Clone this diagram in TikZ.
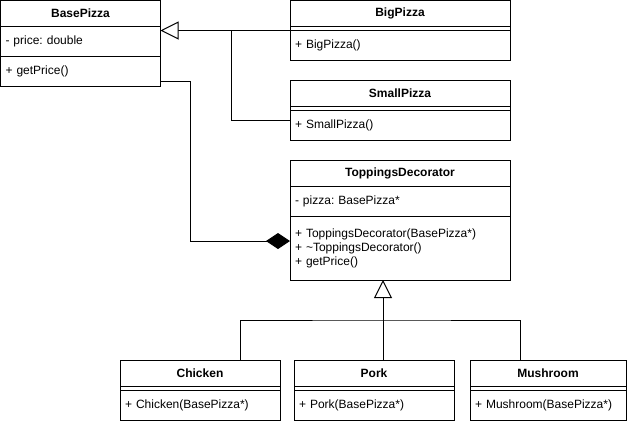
\documentclass[tikz,border=0pt]{standalone}
\usepackage{fontspec}
\setmainfont{Liberation Sans}
\frenchspacing
\usetikzlibrary{arrows.meta,positioning}

\begin{document}
\begin{tikzpicture}[
    x=1pt, y=-1pt,
    line width=1pt,
    node distance=0pt,
    font=\fontsize{12}{14}\selectfont,
    head/.style={rectangle, draw, font=\fontsize{12}{14}\selectfont\bfseries, minimum width=#1, minimum height=26pt, inner sep=0pt, outer sep=0pt},
    sep/.style={rectangle, draw, minimum width=#1, minimum height=4pt, inner sep=0pt, outer sep=0pt},
    part/.style={rectangle, draw, text width=#1, inner xsep=5pt, inner ysep=0pt, outer sep=0pt, align=left},
    inherit/.style={-{Triangle[open, length=18pt, width=18pt, fill=white]}},
    compose/.style={-{Diamond[length=24pt, width=16pt]}}
]
\useasboundingbox (0,0) rectangle (631,424);

% BasePizza
\node[head=160pt, anchor=north west] (basehead) at (0.5,0.5) {BasePizza};
\node[part=150pt, minimum height=30pt, below=of basehead] (baseattr) {- price: double};
\node[part=150pt, minimum height=30pt, below=of baseattr] (basemeth) {+ getPrice()};

% BigPizza
\node[head=220pt, anchor=north west] (bighead) at (290,0.5) {BigPizza};
\node[sep=220pt, below=of bighead] (bigsep) {};
\node[part=210pt, minimum height=30pt, below=of bigsep] (bigmeth) {\raisebox{-2pt}{+ BigPizza()}};

% SmallPizza
\node[head=220pt, anchor=north west] (smallhead) at (290,80) {SmallPizza};
\node[sep=220pt, below=of smallhead] (smallsep) {};
\node[part=210pt, minimum height=30pt, below=of smallsep] (smallmeth) {\raisebox{-2pt}{+ SmallPizza()}};

% ToppingsDecorator
\node[head=220pt, anchor=north west] (topphead) at (290,160) {ToppingsDecorator};
\node[part=210pt, minimum height=30pt, below=of topphead] (toppattr) {- pizza: BasePizza*};
\node[part=210pt, minimum height=64pt, below=of toppattr] (toppmeth) {+ ToppingsDecorator(BasePizza*)\\+ \textasciitilde ToppingsDecorator()\\+ getPrice()};

% Toppings
\node[head=160pt, anchor=north west] (chickhead) at (120,360) {Chicken};
\node[sep=160pt, below=of chickhead] (chicksep) {};
\node[part=150pt, minimum height=30pt, below=of chicksep] (chickmeth) {\raisebox{-2pt}{+ Chicken(BasePizza*)}};

\node[head=160pt, anchor=north west] (porkhead) at (294,360) {Pork};
\node[sep=160pt, below=of porkhead] (porksep) {};
\node[part=150pt, minimum height=30pt, below=of porksep] (porkmeth) {\raisebox{-2pt}{+ Pork(BasePizza*)}};

\node[head=156pt, anchor=north west] (mushhead) at (470,360) {Mushroom};
\node[sep=156pt, below=of mushhead] (mushsep) {};
\node[part=146pt, minimum height=30pt, below=of mushsep] (mushmeth) {\raisebox{-2pt}{+ Mushroom(BasePizza*)}};

% Inheritance of pizzas
\coordinate (split) at (231,30);
\draw[inherit] (bigsep.south west) -- (bigsep.south west -| basehead.east);
\draw ([yshift=5pt]smallmeth.west) -| (split);

% Composition
\draw[compose] ([yshift=-10pt]basemeth.east) -- ++(30,0) |- ([yshift=7pt]toppmeth.west);

% Inheritance of toppings
\coordinate (hub) at (383,320);
\draw[inherit] (porkhead.north -| hub) -- (toppmeth.south -| hub);
\draw ([xshift=40pt]chickhead.north) |- (hub) -| ([xshift=-28pt]mushhead.north);
\end{tikzpicture}
\end{document}
